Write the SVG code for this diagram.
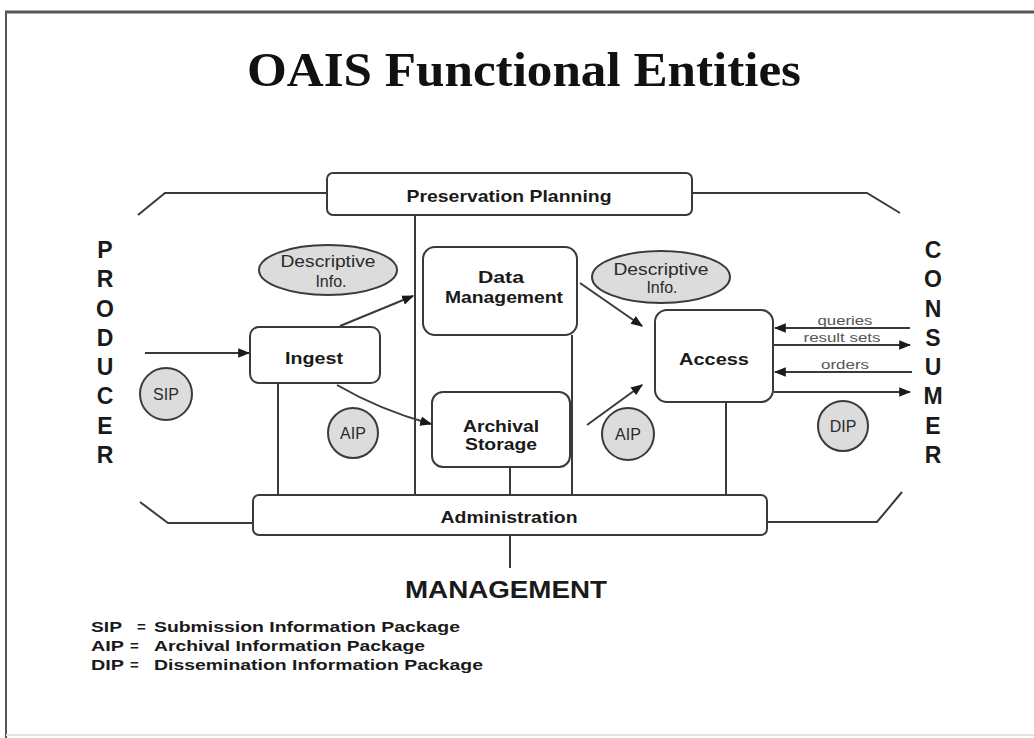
<svg xmlns="http://www.w3.org/2000/svg" width="1034" height="738" viewBox="0 0 1034 738">
<style>
.box{fill:#fff;stroke:#3a3a3a;stroke-width:2}
.ell{fill:#dcdcdc;stroke:#3a3a3a;stroke-width:2}
.ln{fill:none;stroke:#3a3a3a;stroke-width:2}
.lbl{font-family:"Liberation Sans",Arial,sans-serif;font-weight:bold;font-size:17px;fill:#1a1a1a;text-anchor:middle}
.soft{font-family:"Liberation Sans",Arial,sans-serif;font-size:16px;fill:#2a2a2a;text-anchor:middle}
.small{font-family:"Liberation Sans",Arial,sans-serif;font-size:12px;fill:#555;text-anchor:middle}
.big{font-family:"Liberation Sans",Arial,sans-serif;font-weight:bold;font-size:23px;fill:#1a1a1a;text-anchor:middle}
.leg{font-family:"Liberation Sans",Arial,sans-serif;font-weight:bold;font-size:15px;fill:#1a1a1a}
</style>
<defs>
<marker id="ah" viewBox="0 0 10 10" refX="9" refY="5" markerWidth="6" markerHeight="6" orient="auto" markerUnits="strokeWidth">
<path d="M0,1 L10,5 L0,9 z" fill="#1a1a1a"/>
</marker>
</defs>
<rect width="1034" height="738" fill="#fff"/>
<g id="frame">
<line x1="5" y1="12" x2="1034" y2="12" stroke="#555" stroke-width="3"/>
<line x1="6" y1="12" x2="6" y2="738" stroke="#555" stroke-width="2"/>
<line x1="6" y1="735" x2="1034" y2="735" stroke="#e2e2e2" stroke-width="2"/>
</g>
<text x="524" y="86" font-family="'Liberation Serif','Times New Roman',serif" font-weight="bold" font-size="48" text-anchor="middle" textLength="554" lengthAdjust="spacingAndGlyphs" fill="#111">OAIS Functional Entities</text>

<g id="connectors">
<polyline class="ln" points="138,215 165,193 327,193"/>
<polyline class="ln" points="692,193 867,193 900,213"/>
<polyline class="ln" points="140,502 168,523 253,523"/>
<polyline class="ln" points="767,522 877,522 902,492"/>
<line class="ln" x1="415" y1="215" x2="415" y2="495"/>
<line class="ln" x1="278" y1="383" x2="278" y2="495"/>
<line class="ln" x1="572" y1="335" x2="572" y2="495"/>
<line class="ln" x1="510" y1="467" x2="510" y2="495"/>
<line class="ln" x1="726" y1="402" x2="726" y2="495"/>
<line class="ln" x1="510" y1="535" x2="510" y2="568"/>
<line class="ln" x1="145" y1="353" x2="249" y2="353" marker-end="url(#ah)"/>
<line class="ln" x1="340" y1="326" x2="413" y2="296" marker-end="url(#ah)"/>
<path class="ln" d="M337,385 Q380,410 431,424" marker-end="url(#ah)"/>
<line class="ln" x1="580" y1="283" x2="642" y2="326" marker-end="url(#ah)"/>
<line class="ln" x1="587" y1="425" x2="642" y2="385" marker-end="url(#ah)"/>
<line class="ln" x1="910" y1="328" x2="775" y2="328" marker-end="url(#ah)"/>
<line class="ln" x1="774" y1="345" x2="910" y2="345" marker-end="url(#ah)"/>
<line class="ln" x1="912" y1="372" x2="775" y2="372" marker-end="url(#ah)"/>
<line class="ln" x1="774" y1="392" x2="910" y2="392" stroke-width="2.5" marker-end="url(#ah)"/>
<text class="small" x="845" y="325" textLength="55" lengthAdjust="spacingAndGlyphs">queries</text>
<text class="small" x="842" y="342" textLength="77" lengthAdjust="spacingAndGlyphs">result sets</text>
<text class="small" x="845" y="369" textLength="48" lengthAdjust="spacingAndGlyphs">orders</text>
</g>

<g id="preservation-planning">
<rect class="box" x="327" y="173" width="365" height="42" rx="6"/>
<text class="lbl" x="509" y="202" textLength="205" lengthAdjust="spacingAndGlyphs">Preservation Planning</text>
</g>
<g id="administration">
<rect class="box" x="253" y="495" width="514" height="40" rx="6"/>
<text class="lbl" x="509" y="523" textLength="137" lengthAdjust="spacingAndGlyphs">Administration</text>
</g>
<g id="ingest">
<rect class="box" x="250" y="327" width="130" height="56" rx="9"/>
<text class="lbl" x="314" y="364" textLength="58" lengthAdjust="spacingAndGlyphs">Ingest</text>
</g>
<g id="data-management">
<rect class="box" x="423" y="247" width="154" height="88" rx="12"/>
<text class="lbl" x="501" y="283" textLength="46" lengthAdjust="spacingAndGlyphs">Data</text>
<text class="lbl" x="504" y="303" textLength="118" lengthAdjust="spacingAndGlyphs">Management</text>
</g>
<g id="archival-storage">
<rect class="box" x="432" y="392" width="138" height="75" rx="11"/>
<text class="lbl" x="501" y="432" textLength="76" lengthAdjust="spacingAndGlyphs">Archival</text>
<text class="lbl" x="501" y="450" textLength="72" lengthAdjust="spacingAndGlyphs">Storage</text>
</g>
<g id="access">
<rect class="box" x="655" y="310" width="118" height="92" rx="12"/>
<text class="lbl" x="714" y="365" textLength="70" lengthAdjust="spacingAndGlyphs">Access</text>
</g>
<g id="descriptive-info-1">
<ellipse class="ell" cx="328" cy="270" rx="69" ry="25"/>
<text class="soft" x="328" y="267" textLength="95" lengthAdjust="spacingAndGlyphs">Descriptive</text>
<text class="soft" x="331" y="287">Info.</text>
</g>
<g id="descriptive-info-2">
<ellipse class="ell" cx="661" cy="277" rx="69" ry="26"/>
<text class="soft" x="661" y="275" textLength="95" lengthAdjust="spacingAndGlyphs">Descriptive</text>
<text class="soft" x="662" y="293">Info.</text>
</g>
<g id="sip">
<circle class="ell" cx="166" cy="394" r="26"/>
<text class="soft" x="166" y="400">SIP</text>
</g>
<g id="aip-1">
<circle class="ell" cx="353" cy="433" r="25"/>
<text class="soft" x="353" y="439">AIP</text>
</g>
<g id="aip-2">
<circle class="ell" cx="628" cy="434" r="26"/>
<text class="soft" x="628" y="440">AIP</text>
</g>
<g id="dip">
<circle class="ell" cx="843" cy="426" r="25"/>
<text class="soft" x="843" y="432">DIP</text>
</g>
<g id="producer">
<text class="big" x="105" y="258">P</text>
<text class="big" x="105" y="287">R</text>
<text class="big" x="105" y="317">O</text>
<text class="big" x="105" y="346">D</text>
<text class="big" x="105" y="375">U</text>
<text class="big" x="105" y="404">C</text>
<text class="big" x="105" y="434">E</text>
<text class="big" x="105" y="463">R</text>
</g>
<g id="consumer">
<text class="big" x="933" y="258">C</text>
<text class="big" x="933" y="287">O</text>
<text class="big" x="933" y="317">N</text>
<text class="big" x="933" y="346">S</text>
<text class="big" x="933" y="375">U</text>
<text class="big" x="933" y="404">M</text>
<text class="big" x="933" y="434">E</text>
<text class="big" x="933" y="463">R</text>
</g>
<g id="management">
<text x="506" y="598" font-family="'Liberation Sans',Arial,sans-serif" font-weight="bold" font-size="24" text-anchor="middle" textLength="202" lengthAdjust="spacingAndGlyphs" fill="#1a1a1a">MANAGEMENT</text>
</g>
<g id="legend">
<text class="leg" x="91" y="632" textLength="31" lengthAdjust="spacingAndGlyphs">SIP</text><text class="leg" x="137" y="632">=</text><text class="leg" x="154" y="632" textLength="306" lengthAdjust="spacingAndGlyphs">Submission Information Package</text>
<text class="leg" x="91" y="651" textLength="33" lengthAdjust="spacingAndGlyphs">AIP</text><text class="leg" x="130" y="651">=</text><text class="leg" x="154" y="651" textLength="271" lengthAdjust="spacingAndGlyphs">Archival Information Package</text>
<text class="leg" x="91" y="670" textLength="33" lengthAdjust="spacingAndGlyphs">DIP</text><text class="leg" x="130" y="670">=</text><text class="leg" x="154" y="670" textLength="329" lengthAdjust="spacingAndGlyphs">Dissemination Information Package</text>
</g>
</svg>
